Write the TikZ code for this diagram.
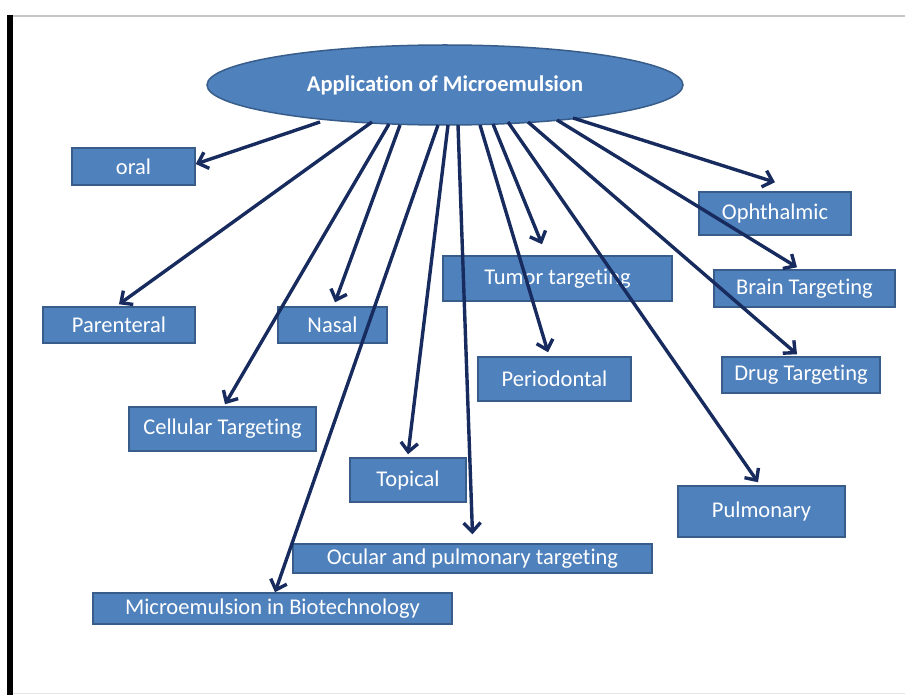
\documentclass[tikz,border=0pt]{standalone}
\usepackage{fontspec}
\setmainfont{Carlito}[Ligatures={NoCommon}]
\usetikzlibrary{arrows.meta,shapes.geometric}
\definecolor{boxfill}{HTML}{4F81BD}
\definecolor{boxline}{HTML}{385D8A}
\definecolor{arrowc}{HTML}{172B5E}
\tikzset{
  box/.style={draw=boxline,fill=boxfill,line width=1.5pt,inner sep=0pt,text=white,
    font=\fontsize{22.5}{27}\selectfont},
  conn/.style={draw=arrowc,line width=3.4pt,-{Straight Barb[length=9pt,width=17pt]}},
}
\begin{document}
\begin{tikzpicture}[x=1pt,y=-1pt]
\useasboundingbox (0,0) rectangle (905,695);
% frame
\fill[black] (7,15) rectangle (13,695);
\draw[gray!45,line width=1.2pt] (13,16) -- (905,16);
\draw[gray!20,line width=1pt] (13,693) -- (905,693);
% title
\node[ellipse,draw=boxline,fill=boxfill,line width=1.5pt,inner sep=0pt,
  minimum width=476,minimum height=80,text=white,
  font=\bfseries\fontsize{22.5}{27}\selectfont] (title) at (445,85) {Application of Microemulsion};
% boxes
\node[box,minimum width=123,minimum height=37] (oral) at (133.5,166.5) {oral};
\node[box,minimum width=152,minimum height=36] (par) at (119,325) {Parenteral};
\node[box,minimum width=109,minimum height=36] (nasal) at (332.5,325) {Nasal};
\node[box,minimum width=187,minimum height=44] (cell) at (222.5,429) {Cellular Targeting};
\node[box,minimum width=229,minimum height=45] (tumor) at (557.5,278.5) {Tumor targeting};
\node[box,minimum width=152,minimum height=43] (oph) at (775,213.5) {Ophthalmic};
\node[box,minimum width=181,minimum height=37] (brain) at (804.5,288.5) {Brain Targeting};
\node[box,minimum width=158,minimum height=36] (drug) at (801,375) {Drug Targeting};
\node[box,minimum width=153,minimum height=44] (perio) at (554.5,379) {Periodontal};
\node[box,minimum width=167,minimum height=51] (pulm) at (761.5,511.5) {Pulmonary};
\node[box,minimum width=116,minimum height=44] (top) at (408,480) {Topical};
\node[box,minimum width=359,minimum height=29] (ocul) at (472.5,558.5) {Ocular and pulmonary targeting};
\node[box,minimum width=359,minimum height=31] (bio) at (272.5,608.5) {Microemulsion in Biotechnology};
% start points on the ellipse
\coordinate (s1) at (320,122);
\coordinate (s2) at (372,122);
\coordinate (s3) at (389,124);
\coordinate (s4) at (400,125);
\coordinate (s5) at (438,125);
\coordinate (s6) at (448,125);
\coordinate (s7) at (458,125);
\coordinate (s8) at (480,125);
\coordinate (s9) at (493,124);
\coordinate (s10) at (508,122);
\coordinate (s11) at (528,122);
\coordinate (s12) at (557,120);
\coordinate (s13) at (573,118);
% connectors
\draw[conn] (s1) -- ([yshift=2.5pt]oral.east);
\draw[conn] (s2) -- ([yshift=2pt]par.north);
\draw[conn] (s3) -- ([xshift=2.5pt,yshift=2pt]cell.north);
\draw[conn] (s4) -- ([xshift=2.5pt,yshift=4pt]nasal.north);
\draw[conn] (s5) -- ([xshift=2.5pt]bio.north);
\draw[conn] (s6) -- ([yshift=3pt]top.north);
\draw[conn] (s7) -- ([yshift=9pt]ocul.north);
\draw[conn] (s8) -- ([xshift=-6.5pt,yshift=4pt]perio.north);
\draw[conn] (s9) -- ([xshift=-15.5pt,yshift=11pt]tumor.north);
\draw[conn] (s10) -- ([xshift=-3.5pt,yshift=3pt]pulm.north);
\draw[conn] (s11) -- ([xshift=-4pt,yshift=2pt]drug.north);
\draw[conn] (s12) -- ([xshift=-7.5pt,yshift=2pt]brain.north);
\draw[conn] (s13) -- ([yshift=9pt]oph.north);
\end{tikzpicture}
\end{document}
